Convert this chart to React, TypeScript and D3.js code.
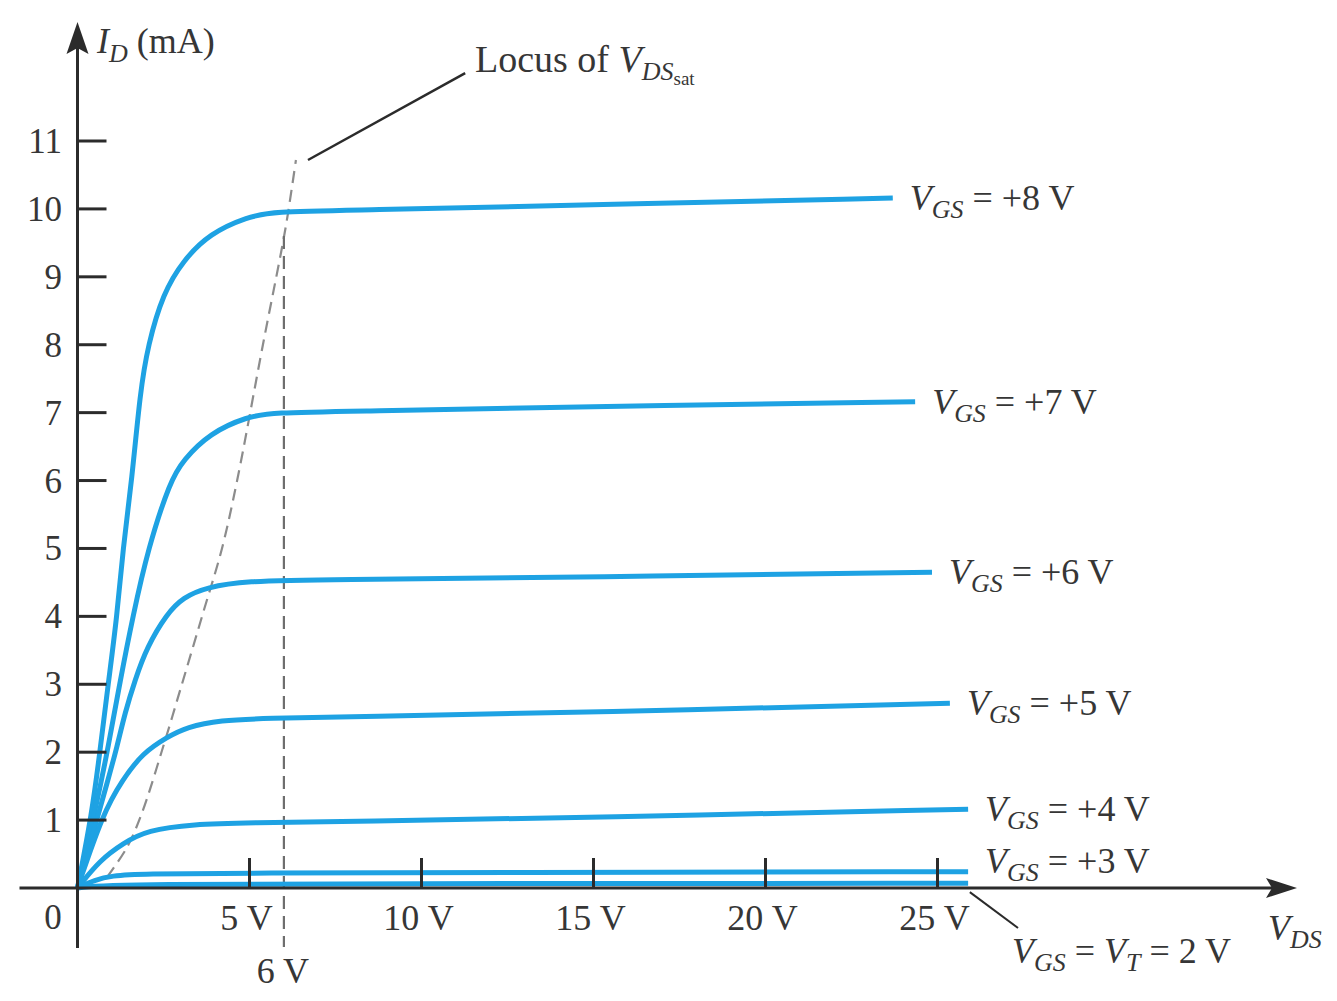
import { useEffect, useRef } from "react"
import * as d3 from "d3"

// drain characteristics, [V_DS (V), I_D (mA)]
const vgs8 = [[0, 0], [0.42, 1.1], [0.65, 2], [0.89, 3], [1.15, 4], [1.32, 5], [1.58, 6], [1.82, 7.3], [2.05, 8], [2.49, 8.76], [3.07, 9.24], [3.85, 9.64], [4.93, 9.88], [5.68, 9.96], [8, 9.98], [15, 10.06], [23.7, 10.16]]
const vgs7 = [[0, 0], [0.6, 1.34], [0.89, 2.07], [1.24, 3.05], [1.61, 4], [2.05, 5], [2.7, 6], [3.07, 6.3], [3.85, 6.7], [4.93, 6.94], [5.68, 7.0], [8, 7.02], [15, 7.09], [24.35, 7.16]]
const vgs6 = [[0, 0], [0.45, 0.8], [0.89, 1.6], [1.15, 2.08], [1.38, 2.58], [1.67, 3.06], [2.02, 3.55], [2.6, 4.04], [3.07, 4.28], [3.76, 4.43], [4.9, 4.52], [7, 4.54], [15, 4.58], [24.84, 4.65]]
const vgs5 = [[0, 0], [0.74, 1.1], [1.3, 1.59], [1.9, 1.99], [2.6, 2.22], [3.18, 2.37], [4.14, 2.47], [5.5, 2.5], [8, 2.52], [15, 2.59], [25.36, 2.72]]
const vgs4 = [[0, 0], [0.65, 0.41], [1.33, 0.66], [2.02, 0.85], [3.36, 0.94], [5, 0.96], [8, 0.98], [15, 1.04], [25.89, 1.16]]
const vgs3 = [[0, 0], [0.5, 0.12], [1.0, 0.18], [1.8, 0.21], [5, 0.22], [12, 0.23], [25.89, 0.24]]
const vgs2 = [[0, 0], [1.0, 0.06], [12, 0.065], [25.89, 0.07]]

const curves = [vgs8, vgs7, vgs6, vgs5, vgs4, vgs3, vgs2]
const curveLabels = ["+8 V", "+7 V", "+6 V", "+5 V", "+4 V", "+3 V"]

// locus of V_DS(sat)
const locus = [[0.86, 0.16], [1.44, 0.6], [1.87, 1.1], [2.49, 2.08], [3.07, 3.06], [3.65, 4.05], [4.2, 5.0], [4.64, 6.0], [5.39, 8.0], [5.97, 9.5], [6.12, 9.94], [6.35, 10.72]]
const satMarker = { v: 6, top: 9.6, bottom: -0.87 }
const locusLeader = [[6.7, 10.72], [11.27, 12.0]]
const vtLeader = [[25.94, -0.06], [27.34, -0.59]]

const xTicks = [5, 10, 15, 20, 25]
const xTickLabels = ["5 V", "10 V", "15 V", "20 V", "25 V"]
const yTicks = [1, 2, 3, 4, 5, 6, 7, 8, 9, 10, 11]

const W = 1337
const H = 1001
const FONT = "'Liberation Serif', 'Times New Roman', serif"
const BLUE = "#1ea2e3"
const INK = "#2b2b2b"
const TEXT = "#363636"

const App = () => {
  const svgRef = useRef(null)

  useEffect(() => {
    const svg = d3.select(svgRef.current)
    svg.selectAll("*").remove()

    const x = d3.scaleLinear().domain([0, 25]).range([77.5, 937.5])
    const y = d3.scaleLinear().domain([0, 11]).range([888, 141])
    const x0 = x(0)
    const y0 = y(0)

    svg.append("rect").attr("width", W).attr("height", H).attr("fill", "white")

    const g = svg.append("g").style("font-family", FONT)

    const line = d3
      .line()
      .x((d) => x(d[0]))
      .y((d) => y(d[1]))
      .curve(d3.curveBasis)

    const straight = d3
      .line()
      .x((d) => x(d[0]))
      .y((d) => y(d[1]))
      .curve(d3.curveCatmullRom.alpha(0.5))

    // dashed guides
    g.append("path")
      .attr("d", straight(locus))
      .attr("fill", "none")
      .attr("stroke", "#8c8c8c")
      .attr("stroke-width", 2.2)
      .attr("stroke-dasharray", "12 7")

    g.append("line")
      .attr("x1", x(satMarker.v))
      .attr("x2", x(satMarker.v))
      .attr("y1", y(satMarker.top))
      .attr("y2", y(satMarker.bottom))
      .attr("stroke", "#6e6e6e")
      .attr("stroke-width", 2.2)
      .attr("stroke-dasharray", "13 7")

    // curves
    g.selectAll(".curve")
      .data(curves)
      .enter()
      .append("path")
      .attr("class", "curve")
      .attr("d", (d) => line(d))
      .attr("fill", "none")
      .attr("stroke", BLUE)
      .attr("stroke-width", 5)
      .attr("stroke-linecap", "butt")

    // axes
    g.append("line")
      .attr("x1", x0 - 58).attr("x2", 1272)
      .attr("y1", y0).attr("y2", y0)
      .attr("stroke", INK).attr("stroke-width", 3)
    g.append("path")
      .attr("d", `M1297,${y0} L1266,${y0 - 10} L1272,${y0} L1266,${y0 + 10} Z`)
      .attr("fill", INK)

    g.append("line")
      .attr("x1", x0).attr("x2", x0)
      .attr("y1", y0 + 60).attr("y2", 48)
      .attr("stroke", INK).attr("stroke-width", 3)
    g.append("path")
      .attr("d", `M${x0},22 L${x0 - 11},54 L${x0},48 L${x0 + 11},54 Z`)
      .attr("fill", INK)

    // y ticks
    yTicks.forEach((t) => {
      g.append("line")
        .attr("x1", x0).attr("x2", x0 + 29)
        .attr("y1", y(t)).attr("y2", y(t))
        .attr("stroke", INK).attr("stroke-width", 3)
      g.append("text")
        .attr("x", 62)
        .attr("y", y(t) + 12)
        .attr("text-anchor", "end")
        .attr("font-size", 35)
        .attr("fill", TEXT)
        .text(t)
    })

    // x ticks
    xTicks.forEach((t, i) => {
      g.append("line")
        .attr("x1", x(t)).attr("x2", x(t))
        .attr("y1", y0).attr("y2", y0 - 30)
        .attr("stroke", INK).attr("stroke-width", 3)
      g.append("text")
        .attr("x", x(t) - 3)
        .attr("y", y0 + 42)
        .attr("text-anchor", "middle")
        .attr("font-size", 36)
        .attr("fill", TEXT)
        .text(xTickLabels[i])
    })

    g.append("text")
      .attr("x", 53).attr("y", y0 + 41)
      .attr("text-anchor", "middle")
      .attr("font-size", 35)
      .attr("fill", TEXT)
      .text("0")

    g.append("text")
      .attr("x", x(satMarker.v) - 1).attr("y", y0 + 95)
      .attr("text-anchor", "middle")
      .attr("font-size", 36)
      .attr("fill", TEXT)
      .text("6 V")

    // helper for V with subscript
    const subLabel = (px, py, main, sub, rest, size = 36) => {
      const t = g.append("text")
        .attr("x", px).attr("y", py)
        .attr("font-size", size)
        .attr("fill", TEXT)
        .style("white-space", "pre")
      t.append("tspan").style("font-style", "italic").text(main)
      t.append("tspan").style("font-style", "italic").attr("font-size", size * 0.72).attr("dy", 8).text(sub)
      if (rest) t.append("tspan").attr("dy", -8).text(rest)
      return t
    }

    // curve labels
    curveLabels.forEach((lab, i) => {
      const c = curves[i]
      const end = c[c.length - 1]
      const dy = i === 5 ? 1 : 12
      subLabel(x(end[0]) + 17, y(end[1]) + dy, "V", "GS", ` = ${lab}`)
    })

    // threshold label + leader
    g.append("line")
      .attr("x1", x(vtLeader[0][0])).attr("y1", y(vtLeader[0][1]))
      .attr("x2", x(vtLeader[1][0])).attr("y2", y(vtLeader[1][1]))
      .attr("stroke", INK).attr("stroke-width", 2)
    const vt = subLabel(1012, 963, "V", "GS", " = ")
    vt.append("tspan").style("font-style", "italic").text("V")
    vt.append("tspan").style("font-style", "italic").attr("font-size", 26).attr("dy", 8).text("T")
    vt.append("tspan").attr("dy", -8).text(" = 2 V")

    // locus label + leader
    g.append("line")
      .attr("x1", x(locusLeader[0][0])).attr("y1", y(locusLeader[0][1]))
      .attr("x2", x(locusLeader[1][0])).attr("y2", y(locusLeader[1][1]))
      .attr("stroke", INK).attr("stroke-width", 2.5)
    const loc = g.append("text")
      .attr("x", 475).attr("y", 72)
      .attr("font-size", 38)
      .attr("fill", TEXT)
      .style("white-space", "pre")
    loc.append("tspan").text("Locus of ")
    loc.append("tspan").style("font-style", "italic").text("V")
    loc.append("tspan").style("font-style", "italic").attr("font-size", 26).attr("dy", 8).text("DS")
    loc.append("tspan").attr("font-size", 19).attr("dy", 5).text("sat")

    // axis titles
    const id = g.append("text")
      .attr("x", 97).attr("y", 53)
      .attr("font-size", 36)
      .attr("fill", TEXT)
      .style("white-space", "pre")
    id.append("tspan").style("font-style", "italic").text("I")
    id.append("tspan").style("font-style", "italic").attr("font-size", 26).attr("dy", 9).text("D")
    id.append("tspan").attr("dy", -9).text(" (mA)")

    subLabel(1268, 940, "V", "DS", "", 36)
  }, [])

  return (
    <svg
      ref={svgRef}
      width={W}
      height={H}
      style={{ position: "absolute", left: 0, top: 0 }}
    ></svg>
  )
}

export default App
